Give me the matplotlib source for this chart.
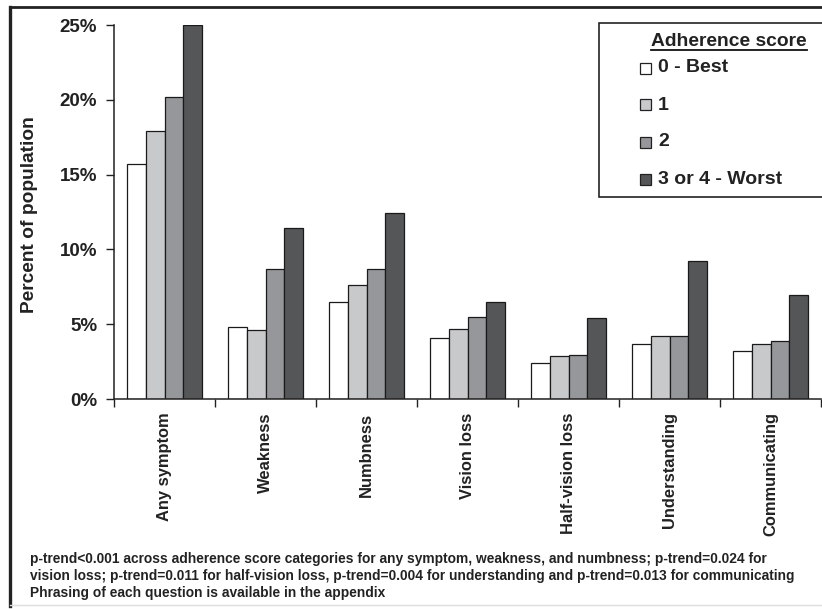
import matplotlib
matplotlib.use("Agg")
import matplotlib.pyplot as plt
from matplotlib.patches import Rectangle
from matplotlib.lines import Line2D
import numpy as np

plt.rcParams['font.family'] = ['Liberation Sans', 'DejaVu Sans']

categories = ["Any symptom", "Weakness", "Numbness", "Vision loss",
              "Half-vision loss", "Understanding", "Communicating"]
series_names = ["0 - Best", "1", "2", "3 or 4 - Worst"]
score0 = [15.7, 4.8, 6.5, 4.1, 2.4, 3.7, 3.2]
score1 = [17.9, 4.6, 7.6, 4.7, 2.9, 4.2, 3.7]
score2 = [20.2, 8.7, 8.7, 5.5, 2.95, 4.2, 3.85]
score34 = [25.0, 11.4, 12.4, 6.5, 5.4, 9.2, 6.95]
series = [score0, score1, score2, score34]
colors = ["#ffffff", "#c8c9cb", "#96979b", "#555658"]
yticks = [0, 5, 10, 15, 20, 25]
ytick_labels = ["0%", "5%", "10%", "15%", "20%", "25%"]
footnote = ("p-trend<0.001 across adherence score categories for any symptom, weakness, and numbness; p-trend=0.024 for\n"
            "vision loss; p-trend=0.011 for half-vision loss, p-trend=0.004 for understanding and p-trend=0.013 for communicating\n"
            "Phrasing of each question is available in the appendix")

W, H = 822, 609
fig = plt.figure(figsize=(W / 100, H / 100), dpi=100)
ax = fig.add_axes([114 / W, 1 - 399 / H, (821 - 114) / W, (399 - 25) / H])

n = len(categories)
x = np.arange(n)
bw = 0.186
for i, (vals, c) in enumerate(zip(series, colors)):
    ax.bar(x + (i - 1.5) * bw, vals, width=bw, color=c, edgecolor="#1a1a1a",
           linewidth=0.9, zorder=2)

ax.set_xlim(-0.5, n - 0.5)
ax.set_ylim(0, 25)
ax.set_yticks(yticks)
ax.set_yticklabels(ytick_labels, fontsize=13.5, fontweight="bold", color="#222222")
ax.set_xticks(np.arange(n + 1) - 0.5, minor=False)
ax.set_xticklabels([])
ax.tick_params(axis="x", direction="out", length=6, width=1, color="#222222")
ax.tick_params(axis="y", direction="out", length=6, width=1, color="#222222", pad=6)
for s in ["top", "right"]:
    ax.spines[s].set_visible(False)
for s in ["left", "bottom"]:
    ax.spines[s].set_linewidth(1.1)
    ax.spines[s].set_color("#222222")

for xi, lab in zip(x, categories):
    ax.text(xi, -0.9, lab, rotation=90, ha="center", va="top", fontsize=11.9,
            fontweight="bold", color="#222222", transform=ax.transData, clip_on=False)

fig.text(30 / W, 1 - 215 / H, "Percent of population", rotation=90, ha="center",
         va="center", fontsize=13.8, fontweight="bold", color="#222222")

# legend box
fig.patches.append(Rectangle((599 / W, 1 - 197 / H), (W + 5 - 599) / W, (197 - 23) / H,
                             transform=fig.transFigure, facecolor="white",
                             edgecolor="#222222", linewidth=1.2, zorder=5))
fig.text(729 / W, 1 - 41 / H, "Adherence score", ha="center", va="center",
         fontsize=13.9, fontweight="bold", color="#222222", zorder=6)
fig.lines.append(Line2D([651 / W, 807 / W], [1 - 50 / H, 1 - 50 / H],
                        transform=fig.transFigure, color="#111111", linewidth=1.3, zorder=6))
for k, (name, c) in enumerate(zip(series_names, colors)):
    yc = 68 + 37 * k
    fig.patches.append(Rectangle((640 / W, 1 - (yc + 5.5) / H), 11 / W, 11 / H,
                                 transform=fig.transFigure, facecolor=c,
                                 edgecolor="#222222", linewidth=0.9, zorder=6))
    fig.text(658 / W, 1 - yc / H, name, ha="left", va="center", fontsize=14,
             fontweight="bold", color="#222222", zorder=6)

fig.text(30 / W, 1 - 576 / H, footnote, ha="left", va="center", fontsize=9.9,
         fontweight="bold", linespacing=1.23, color="#222222")

# outer frame
fig.lines.append(Line2D([9.5 / W, 9.5 / W], [1 - 606 / H, 1 - 7 / H],
                        transform=fig.transFigure, color="#222222", linewidth=2.4))
fig.lines.append(Line2D([9.5 / W, 1.0], [1 - 7 / H, 1 - 7 / H],
                        transform=fig.transFigure, color="#222222", linewidth=2.0))
fig.lines.append(Line2D([9.5 / W, 1.0], [1 - 605 / H, 1 - 605 / H],
                        transform=fig.transFigure, color="#dddddd", linewidth=1.0))

fig.savefig("out.png", dpi=100)
